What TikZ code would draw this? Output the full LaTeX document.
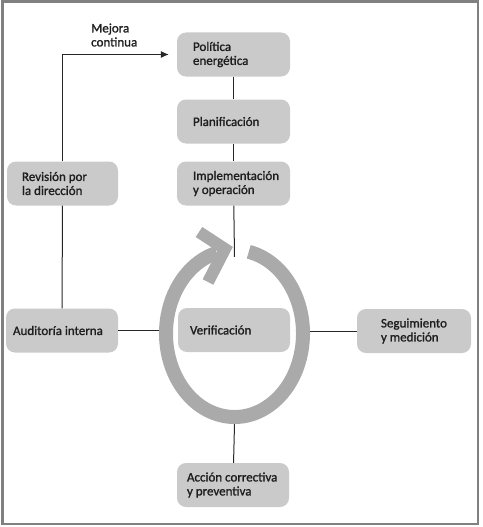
\documentclass[tikz,border=0pt]{standalone}
\usepackage{fontspec}
\setmainfont{Carlito}[BoldFont=Carlito, BoldFeatures={FakeBold=1.3}]
\usetikzlibrary{shapes.geometric,arrows.meta}
\definecolor{boxgray}{RGB}{202,202,202}
\definecolor{ringgray}{RGB}{170,170,170}
\definecolor{txtgray}{RGB}{30,30,30}
\definecolor{framegray}{RGB}{128,128,128}
\begin{document}
\begin{tikzpicture}[x=1pt,y=-1pt]
                        \tikzstyle{box}=[rectangle, rounded corners=9pt, fill=boxgray, text=txtgray, minimum height=44pt, inner ysep=2pt, align=flush left, font=\fontsize{13}{14}\selectfont\bfseries]
                        \tikzstyle{mid}=[box, inner xsep=16pt, text width=81pt]
                        \tikzstyle{conn}=[draw=black!85, line width=1pt]
                        \tikzstyle{ringline}=[draw=ringgray, line width=14pt]
                        \useasboundingbox (0,0) rectangle (482,527);
                        \draw[framegray, line width=2.5pt] (2.5,1.5) rectangle (478,524);
                        \node[mid] (pol) at (233.5,54.5) {Política\\energética};
                        \node[mid] (plan) at (233.5,121.5) {Planificación};
                        \node[mid] (imp) at (233.5,183.5) {Implementación\\y operación};
                        \node[box, inner xsep=15pt, text width=81pt] (rev) at (62.5,183.5) {Revisión por\\la dirección};
                        \node[box, inner xsep=7pt, text width=98pt] (aud) at (62,330.5) {Auditoría interna};
                        \node[box, inner xsep=12pt, text width=88pt] (ver) at (234,330) {Verificación};
                        \node[box, inner xsep=24pt, text width=66pt] (seg) at (414,331) {Seguimiento\\y medición};
                        \node[box, inner xsep=10pt, text width=92pt] (acc) at (233,485) {Acción correctiva\\y preventiva};
                        \node[align=left, inner sep=0pt, anchor=west, text=txtgray, font=\fontsize{13}{14}\selectfont\bfseries] (mej) at (91,35) {Mejora\\continua};
                        \node[ellipse, minimum width=151pt, minimum height=181pt, inner sep=0pt] (ring) at (234.5,333.5) {};
                        \coordinate (ringtop) at ([yshift=-14pt]ring.north);
                        \draw[conn] (pol) -- (plan);
                        \draw[conn] (plan) -- (imp);
                        \draw[conn] (imp) -- (ringtop);
                        \draw[conn] (rev) -- (aud);
                        \draw[conn, -{Latex[length=8pt,width=7pt]}] (rev.north) |- ([xshift=-8pt]pol.west);
                        \draw[conn] (aud.east) -- (aud.east -| ring.west);
                        \draw[conn] (seg.west) -- (seg.west -| ring.east);
                        \draw[conn] (ring.south) -- (acc);
                        \draw[ringline] (ring.center) ++(-78:68.5 and 83.5) arc[start angle=-78, end angle=255, x radius=68.5, y radius=83.5];
                        \draw[ringline, line width=12pt, miter limit=4] (199,232) -- (225,249) -- (208,282);
\end{tikzpicture}
\end{document}
